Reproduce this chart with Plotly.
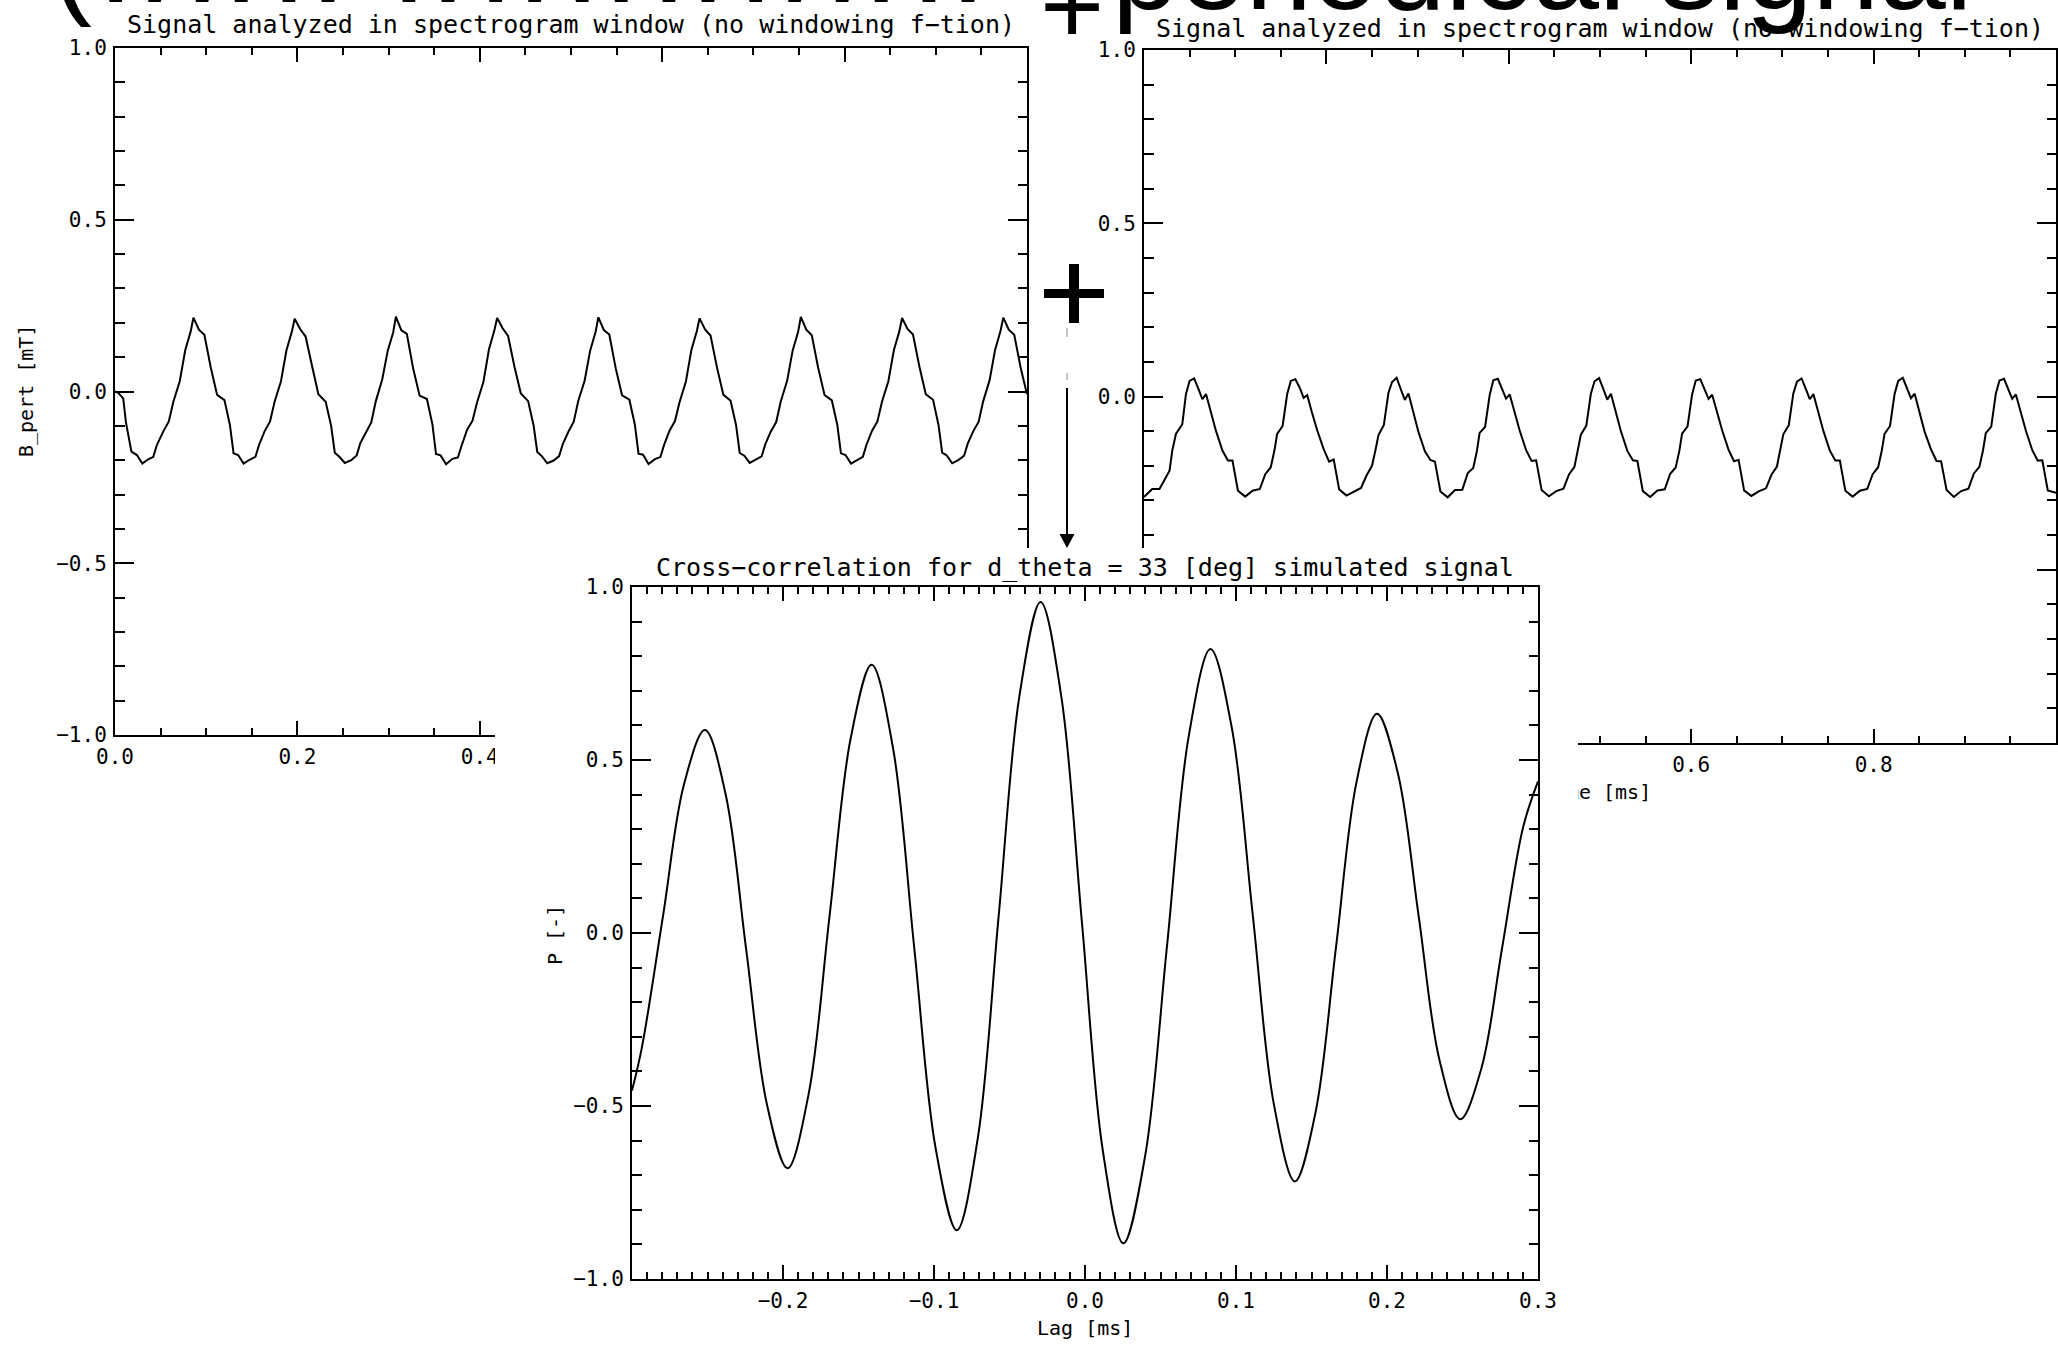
import numpy as np
import plotly.graph_objects as go

# ---------------- data ----------------
# Probe 1: B_pert [mT] versus time [ms]
left_t = [0.000, 0.004, 0.009, 0.012, 0.018, 0.024, 0.030, 0.036, 0.042, 0.046, 0.053, 0.059, 0.064, 0.071, 0.077, 0.083,
          0.086, 0.092, 0.098, 0.105, 0.112, 0.120, 0.126, 0.130, 0.135, 0.141, 0.148, 0.154, 0.158, 0.164, 0.170, 0.175, 0.182, 0.188, 0.194,
          0.197, 0.203, 0.209, 0.216, 0.223, 0.231, 0.237, 0.241, 0.246, 0.252, 0.259, 0.265, 0.269, 0.275, 0.281, 0.286, 0.293, 0.299, 0.305,
          0.308, 0.314, 0.320, 0.327, 0.334, 0.342, 0.348, 0.352, 0.357, 0.363, 0.370, 0.376, 0.380, 0.386, 0.392, 0.397, 0.404, 0.410, 0.416,
          0.419, 0.425, 0.431, 0.438, 0.445, 0.453, 0.459, 0.463, 0.468, 0.474, 0.481, 0.487, 0.491, 0.497, 0.503, 0.508, 0.515, 0.521, 0.527,
          0.530, 0.536, 0.542, 0.549, 0.556, 0.564, 0.570, 0.574, 0.579, 0.585, 0.592, 0.598, 0.602, 0.608, 0.614, 0.619, 0.626, 0.632, 0.638,
          0.641, 0.647, 0.653, 0.660, 0.667, 0.675, 0.681, 0.685, 0.690, 0.696, 0.703, 0.709, 0.713, 0.719, 0.725, 0.730, 0.737, 0.743, 0.749,
          0.752, 0.758, 0.764, 0.771, 0.778, 0.786, 0.792, 0.796, 0.801, 0.807, 0.814, 0.820, 0.824, 0.830, 0.836, 0.841, 0.848, 0.854, 0.860,
          0.863, 0.869, 0.875, 0.882, 0.889, 0.897, 0.903, 0.907, 0.912, 0.918, 0.925, 0.931, 0.935, 0.941, 0.947, 0.952, 0.959, 0.965, 0.971,
          0.974, 0.980, 0.986, 0.993, 1.000]
left_b = [0.000, -0.005, -0.020, -0.090, -0.175, -0.185, -0.210, -0.198, -0.190, -0.155, -0.116, -0.087, -0.030, 0.030, 0.120, 0.175,
          0.215, 0.180, 0.165, 0.070, -0.010, -0.025, -0.097, -0.180, -0.185, -0.210, -0.198, -0.190, -0.155, -0.116, -0.087, -0.030, 0.030, 0.120, 0.175,
          0.212, 0.182, 0.160, 0.075, -0.008, -0.030, -0.100, -0.178, -0.190, -0.208, -0.200, -0.186, -0.150, -0.120, -0.090, -0.028, 0.035, 0.118, 0.172,
          0.218, 0.178, 0.168, 0.066, -0.012, -0.022, -0.095, -0.182, -0.186, -0.212, -0.196, -0.192, -0.158, -0.112, -0.085, -0.032, 0.028, 0.122, 0.178,
          0.214, 0.184, 0.162, 0.072, -0.006, -0.028, -0.099, -0.176, -0.188, -0.209, -0.201, -0.188, -0.153, -0.118, -0.088, -0.027, 0.032, 0.119, 0.174,
          0.216, 0.179, 0.166, 0.068, -0.011, -0.024, -0.096, -0.181, -0.184, -0.211, -0.197, -0.191, -0.156, -0.114, -0.086, -0.031, 0.029, 0.121, 0.176,
          0.213, 0.181, 0.163, 0.071, -0.009, -0.027, -0.098, -0.179, -0.187, -0.208, -0.199, -0.189, -0.154, -0.117, -0.089, -0.029, 0.031, 0.119, 0.173,
          0.217, 0.180, 0.164, 0.069, -0.010, -0.026, -0.097, -0.180, -0.185, -0.210, -0.198, -0.190, -0.155, -0.115, -0.087, -0.030, 0.030, 0.120, 0.175,
          0.214, 0.182, 0.166, 0.073, -0.008, -0.024, -0.098, -0.178, -0.186, -0.209, -0.199, -0.187, -0.152, -0.116, -0.088, -0.028, 0.033, 0.121, 0.177,
          0.215, 0.180, 0.165, 0.070, -0.008]

# Probe 2: B_pert [mT] versus time [ms]
right_t = [0.000, 0.009, 0.017, 0.022, 0.028, 0.031, 0.035, 0.042, 0.046, 0.050,
           0.055, 0.060, 0.064, 0.068, 0.073, 0.079, 0.086, 0.092, 0.097, 0.103, 0.111, 0.119, 0.127, 0.133, 0.139, 0.143, 0.146, 0.152, 0.157, 0.161,
           0.166, 0.171, 0.175, 0.179, 0.184, 0.190, 0.197, 0.203, 0.208, 0.214, 0.222, 0.230, 0.238, 0.244, 0.250, 0.254, 0.257, 0.263, 0.268, 0.272,
           0.277, 0.282, 0.286, 0.290, 0.295, 0.301, 0.308, 0.314, 0.319, 0.325, 0.333, 0.341, 0.349, 0.355, 0.361, 0.365, 0.368, 0.374, 0.379, 0.383,
           0.388, 0.393, 0.397, 0.401, 0.406, 0.412, 0.419, 0.425, 0.430, 0.436, 0.444, 0.452, 0.460, 0.466, 0.472, 0.476, 0.479, 0.485, 0.490, 0.494,
           0.499, 0.504, 0.508, 0.512, 0.517, 0.523, 0.530, 0.536, 0.541, 0.547, 0.555, 0.563, 0.571, 0.577, 0.583, 0.587, 0.590, 0.596, 0.601, 0.605,
           0.610, 0.615, 0.619, 0.623, 0.628, 0.634, 0.641, 0.647, 0.652, 0.658, 0.666, 0.674, 0.682, 0.688, 0.694, 0.698, 0.701, 0.707, 0.712, 0.716,
           0.721, 0.726, 0.730, 0.734, 0.739, 0.745, 0.752, 0.758, 0.763, 0.769, 0.777, 0.785, 0.793, 0.799, 0.805, 0.809, 0.812, 0.818, 0.823, 0.827,
           0.832, 0.837, 0.841, 0.845, 0.850, 0.856, 0.863, 0.869, 0.874, 0.880, 0.888, 0.896, 0.904, 0.910, 0.916, 0.920, 0.923, 0.929, 0.934, 0.938,
           0.943, 0.948, 0.952, 0.956, 0.961, 0.967, 0.974, 0.980, 0.985, 0.991, 1.000]
right_b = [-0.290, -0.267, -0.267, -0.243, -0.214, -0.156, -0.108, -0.080, 0.007, 0.045,
           0.052, 0.020, -0.008, 0.007, -0.042, -0.100, -0.156, -0.185, -0.185, -0.272, -0.289, -0.272, -0.267, -0.224, -0.204, -0.156, -0.108, -0.085, 0.007, 0.045,
           0.050, 0.024, -0.004, 0.004, -0.045, -0.098, -0.152, -0.188, -0.182, -0.268, -0.286, -0.275, -0.264, -0.228, -0.200, -0.152, -0.112, -0.082, 0.010, 0.042,
           0.054, 0.018, -0.010, 0.009, -0.040, -0.103, -0.158, -0.183, -0.188, -0.274, -0.291, -0.270, -0.269, -0.221, -0.206, -0.158, -0.105, -0.088, 0.004, 0.047,
           0.051, 0.022, -0.006, 0.006, -0.043, -0.099, -0.155, -0.186, -0.184, -0.270, -0.288, -0.273, -0.266, -0.225, -0.203, -0.155, -0.110, -0.084, 0.008, 0.044,
           0.053, 0.019, -0.009, 0.008, -0.041, -0.101, -0.157, -0.184, -0.186, -0.273, -0.290, -0.271, -0.268, -0.223, -0.205, -0.157, -0.107, -0.086, 0.006, 0.046,
           0.050, 0.021, -0.007, 0.005, -0.044, -0.098, -0.154, -0.187, -0.183, -0.271, -0.287, -0.274, -0.265, -0.226, -0.202, -0.154, -0.109, -0.083, 0.009, 0.043,
           0.052, 0.020, -0.008, 0.007, -0.042, -0.100, -0.156, -0.185, -0.185, -0.272, -0.289, -0.272, -0.267, -0.224, -0.204, -0.156, -0.108, -0.085, 0.007, 0.045,
           0.054, 0.023, -0.005, 0.008, -0.040, -0.102, -0.153, -0.186, -0.187, -0.270, -0.290, -0.273, -0.266, -0.222, -0.203, -0.155, -0.106, -0.087, 0.008, 0.046,
           0.051, 0.021, -0.007, 0.006, -0.043, -0.099, -0.155, -0.185, -0.184, -0.271, -0.278]

# Cross-correlation P [-] versus lag [ms]
lag_ms = [-0.3000, -0.2935, -0.2795, -0.2656, -0.2517, -0.2380, -0.2244, -0.2107, -0.1970, -0.1831, -0.1692, -0.1552,
          -0.1413, -0.1272, -0.1131, -0.0990, -0.0849, -0.0710, -0.0572, -0.0433, -0.0294, -0.0157, -0.0020, 0.0117,
          0.0254, 0.0398, 0.0543, 0.0687, 0.0831, 0.0971, 0.1111, 0.1250, 0.1390, 0.1526, 0.1662, 0.1798,
          0.1934, 0.2072, 0.2210, 0.2347, 0.2485, 0.2624, 0.2762, 0.2901, 0.3000]
corr_p = [-0.455, -0.332, 0.048, 0.429, 0.587, 0.401, -0.047, -0.494, -0.680, -0.467, 0.048, 0.562,
          0.775, 0.536, -0.042, -0.620, -0.859, -0.593, 0.048, 0.689, 0.957, 0.684, 0.029, -0.626,
          -0.897, -0.645, -0.038, 0.569, 0.821, 0.596, 0.052, -0.493, -0.718, -0.520, -0.042, 0.436,
          0.634, 0.462, 0.048, -0.366, -0.538, -0.393, -0.044, 0.305, 0.438]

# tick labels
sig_x_ticks = [0.0, 0.2, 0.4, 0.6, 0.8, 1.0]
sig_x_labels = ["0.0", "0.2", "0.4", "0.6", "0.8", "1.0"]
sig_x_labels_right = ["0.0", "0.2", "0.4", "0.6", "0.8", ""]
y_ticks = [-1.0, -0.5, 0.0, 0.5, 1.0]
y_labels = ["\u22121.0", "\u22120.5", "0.0", "0.5", "1.0"]
lag_ticks = [-0.3, -0.2, -0.1, 0.0, 0.1, 0.2, 0.3]
lag_labels = ["", "\u22120.2", "\u22120.1", "0.0", "0.1", "0.2", "0.3"]

PLOT_TITLE = "Signal analyzed in spectrogram window (no windowing f\u2212tion)"
CC_TITLE = "Cross\u2212correlation for d_theta = 33 [deg] simulated signal"
HEADING_LEFT = "(www wwwwwww"
HEADING_PLUS = "+"
HEADING_RIGHT = "periodical signal"

# ---------------- page geometry (pixels) ----------------
W, H = 2058, 1346
def fx(p):
    return p / W
def fy(p):
    return 1 - p / H

MONO = "DejaVu Sans Mono"
INK = "black"

fig = go.Figure()

# probe signals
fig.add_trace(go.Scatter(x=left_t, y=left_b, mode="lines", line=dict(color=INK, width=2),
                         xaxis="x", yaxis="y", showlegend=False, hoverinfo="skip"))
fig.add_trace(go.Scatter(x=right_t, y=right_b, mode="lines", line=dict(color=INK, width=2),
                         xaxis="x2", yaxis="y2", showlegend=False, hoverinfo="skip"))

# x-axis titles of the two signal panels, on a full-page pixel layer that sits
# underneath the white panel of the cross-correlation plot
fig.add_trace(go.Scatter(x=[571, 1597], y=[H - 790, H - 794], mode="text", text=["Time [ms]", "Time [ms]"],
                         textfont=dict(family=MONO, size=20, color=INK),
                         xaxis="x3", yaxis="y3", showlegend=False, hoverinfo="skip"))

# white panel behind the cross-correlation plot
fig.add_trace(go.Scatter(x=[-0.05, 1.05, 1.05, -0.05, -0.05], y=[-0.05, -0.05, 1.05, 1.05, -0.05],
                         mode="lines", fill="toself", fillcolor="white", line=dict(width=0, color="white"),
                         xaxis="x4", yaxis="y4", showlegend=False, hoverinfo="skip"))

# cross-correlation
fig.add_trace(go.Scatter(x=lag_ms, y=corr_p, mode="lines", line=dict(color=INK, width=2, shape="spline", smoothing=1.0),
                         xaxis="x5", yaxis="y5", showlegend=False, hoverinfo="skip"))

tickfont = dict(family=MONO, size=21, color=INK)

def frame_axis(domain, rng, tickvals, ticktext, minor_vals, major_len, minor_len, anchor):
    return dict(domain=domain, range=rng, anchor=anchor, automargin=False,
                tickmode="array", tickvals=tickvals, ticktext=ticktext,
                ticks="inside", ticklen=major_len, tickwidth=2, tickcolor=INK,
                minor=dict(tickmode="array", tickvals=minor_vals, ticks="inside", ticklen=minor_len,
                           tickwidth=2, tickcolor=INK, showgrid=False),
                showline=True, linewidth=2, linecolor=INK, mirror="ticks",
                showgrid=False, zeroline=False, tickfont=tickfont, ticklabelstandoff=2, fixedrange=True)

def hidden_axis(domain, rng, anchor):
    return dict(domain=domain, range=rng, anchor=anchor, visible=False, automargin=False, fixedrange=True)

sig_minor_x = list(np.round(np.arange(0, 1.0001, 0.05), 3))
y_minor = list(np.round(np.arange(-1, 1.0001, 0.1), 3))
lag_minor = list(np.round(np.arange(-0.3, 0.3001, 0.01), 3))

tl_x = [fx(115), fx(1027)]
tl_y = [fy(735), fy(48)]
tr_x = [fx(1144), fx(2056)]
tr_y = [fy(743), fy(50)]
cv_x = [fx(495), fx(1578)]
cv_y = [0.0, fy(548)]
cc_x = [fx(632), fx(1538)]
cc_y = [fy(1279), fy(587)]

fig.update_layout(
    template="none",
    width=W, height=H, autosize=False,
    margin=dict(l=0, r=0, t=0, b=0, pad=0),
    paper_bgcolor="white", plot_bgcolor="rgba(0,0,0,0)",
    showlegend=False,
    font=dict(family=MONO, color=INK),
    xaxis=frame_axis(tl_x, [0, 1], sig_x_ticks, sig_x_labels, sig_minor_x, 14, 7, "y"),
    yaxis=frame_axis(tl_y, [-1, 1], y_ticks, y_labels, y_minor, 19, 9.5, "x"),
    xaxis2=frame_axis(tr_x, [0, 1], sig_x_ticks, sig_x_labels_right, sig_minor_x, 14, 7, "y2"),
    yaxis2=frame_axis(tr_y, [-1, 1], y_ticks, y_labels, y_minor, 19, 9.5, "x2"),
    xaxis3=hidden_axis([0, 1], [0, W], "y3"),
    yaxis3=hidden_axis([0, 1], [0, H], "x3"),
    xaxis4=hidden_axis(cv_x, [0, 1], "y4"),
    yaxis4=hidden_axis(cv_y, [0, 1], "x4"),
    xaxis5=frame_axis(cc_x, [-0.3, 0.3], lag_ticks, lag_labels, lag_minor, 14, 7, "y5"),
    yaxis5=frame_axis(cc_y, [-1, 1], y_ticks, y_labels, y_minor, 19, 9.5, "x5"),
)

def label(text, x, y, size=20, angle=0, xanchor="center", yanchor="middle", family=MONO):
    fig.add_annotation(text=text, x=x, y=y, xref="paper", yref="paper", showarrow=False,
                       textangle=angle, xanchor=xanchor, yanchor=yanchor,
                       font=dict(family=family, size=size, color=INK))

# panel titles and axis titles
label(PLOT_TITLE, fx(571), fy(24), size=25)
label(PLOT_TITLE, fx(1600), fy(28), size=25)
label(CC_TITLE, fx(1085), fy(567), size=25)
label("B_pert [mT]", fx(26), fy(391), angle=-90)
label("P [-]", fx(555), fy(935), angle=-90)
label("Lag [ms]", fx(1085), fy(1328))

# slide heading (its upper part runs off the page)
label(HEADING_LEFT, fx(50), fy(29), size=120, xanchor="left", yanchor="bottom", family="Liberation Sans")
label(HEADING_PLUS, fx(1072), fy(6), size=110, xanchor="center", yanchor="middle", family="Liberation Sans")
label(HEADING_RIGHT, fx(1975), fy(36), size=120, xanchor="right", yanchor="bottom", family="Liberation Sans")

# plus sign and arrow between the panels
shapes = [
    dict(type="rect", xref="paper", yref="paper", x0=fx(1069), x1=fx(1079), y0=fy(323), y1=fy(264),
         fillcolor=INK, line=dict(width=0)),
    dict(type="rect", xref="paper", yref="paper", x0=fx(1044), x1=fx(1104), y0=fy(298), y1=fy(289),
         fillcolor=INK, line=dict(width=0)),
    dict(type="line", xref="paper", yref="paper", x0=fx(1067), x1=fx(1067), y0=fy(328), y1=fy(337),
         line=dict(color="#888", width=1)),
    dict(type="line", xref="paper", yref="paper", x0=fx(1067), x1=fx(1067), y0=fy(373), y1=fy(380),
         line=dict(color="#888", width=1)),
    dict(type="line", xref="paper", yref="paper", x0=fx(1067), x1=fx(1067), y0=fy(388), y1=fy(536),
         line=dict(color=INK, width=2)),
    dict(type="path", xref="paper", yref="paper",
         path=f"M {fx(1059.5)} {fy(534)} L {fx(1074.5)} {fy(534)} L {fx(1067)} {fy(548)} Z",
         fillcolor=INK, line=dict(width=0)),
]
fig.update_layout(shapes=shapes)

fig.write_html("out.html", config={"displayModeBar": False, "staticPlot": True})
